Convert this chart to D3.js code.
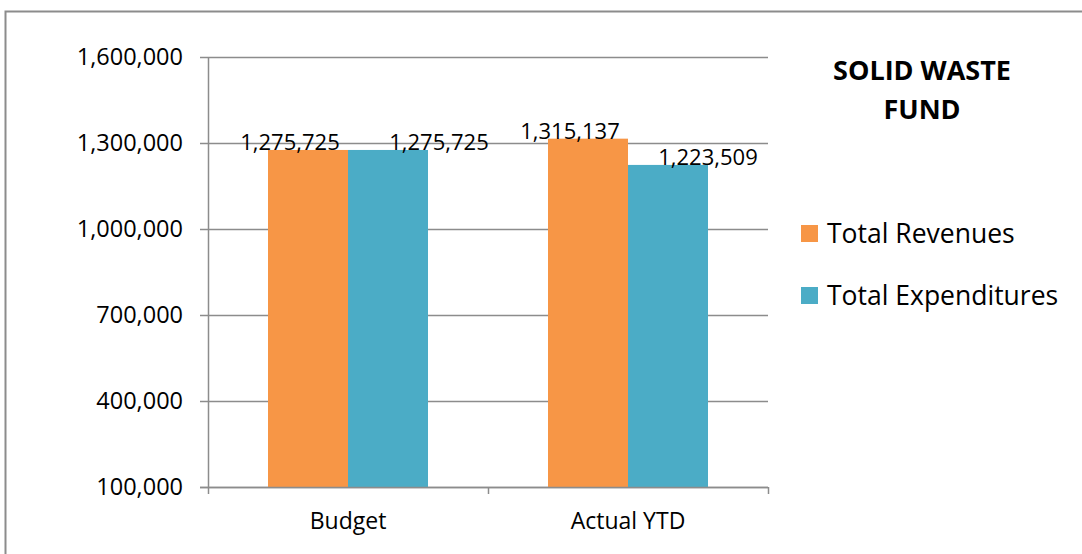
<!DOCTYPE html>
<html>
<head>
<meta charset="utf-8">
<script src="https://cdn.jsdelivr.net/npm/d3@7"></script>
<style>
  html, body { margin: 0; padding: 0; background: #fff; }
  svg { display: block; font-family: "Open Sans", "Liberation Sans", sans-serif; }
</style>
</head>
<body>
<svg id="chart" width="1082" height="554"></svg>
<script>
// ---- data ----
const categories = ["Budget", "Actual YTD"];
const seriesNames = ["Total Revenues", "Total Expenditures"];
const revenues = [1275725, 1315137];
const expenditures = [1275725, 1223509];
const yTicks = [100000, 400000, 700000, 1000000, 1300000, 1600000];
const titleLines = ["SOLID WASTE", "FUND"];

// ---- styling / layout ----
const colors = ["#F79646", "#4BACC6"];
const gridColor = "#8c8c8c";
const svg = d3.select("#chart");
const plot = { left: 208, right: 768, top: 57, bottom: 487 };

// outer border
svg.append("rect")
  .attr("x", 5.5).attr("y", 11.5)
  .attr("width", 1082).attr("height", 560)
  .attr("fill", "none").attr("stroke", "#8c8c8c").attr("stroke-width", 2);

const y = d3.scaleLinear().domain([100000, 1600000]).range([plot.bottom, plot.top]);
const x0 = d3.scaleBand().domain(categories).range([plot.left, plot.right]).paddingInner(0).paddingOuter(0);
const x1 = d3.scaleBand().domain(seriesNames).range([0, x0.bandwidth()]).paddingInner(0).paddingOuter(0.75);

// gridlines
svg.append("g").selectAll("line").data(yTicks).join("line")
  .attr("x1", plot.left - 8).attr("x2", plot.right)
  .attr("y1", d => Math.round(y(d)) + 0.5).attr("y2", d => Math.round(y(d)) + 0.5)
  .attr("stroke", gridColor).attr("stroke-width", 1.5);

// y axis
const yAxis = d3.axisLeft(y).tickValues(yTicks).tickSize(0).tickPadding(25)
  .tickFormat(d3.format(","));
const gy = svg.append("g").attr("transform", `translate(${plot.left},0)`).call(yAxis);
gy.select(".domain").remove();
gy.selectAll("text").attr("font-size", 23.5).attr("fill", "#000")
  .attr("font-family", "'Open Sans', sans-serif");
svg.append("line").attr("x1", plot.left + 0.5).attr("x2", plot.left + 0.5)
  .attr("y1", plot.top).attr("y2", plot.bottom)
  .attr("stroke", gridColor).attr("stroke-width", 1.5);

// bars
const groups = svg.append("g").selectAll("g").data(categories).join("g")
  .attr("transform", d => `translate(${x0(d)},0)`);
groups.selectAll("rect")
  .data((c, i) => [
    { s: seriesNames[0], v: revenues[i], k: 0 },
    { s: seriesNames[1], v: expenditures[i], k: 1 }
  ])
  .join("rect")
  .attr("x", d => x1(d.s))
  .attr("y", d => y(d.v))
  .attr("width", x1.bandwidth())
  .attr("height", d => y(100000) - y(d.v))
  .attr("fill", d => colors[d.k]);

// x axis
const xAxis = d3.axisBottom(x0).tickSize(0).tickPadding(26);
const gx = svg.append("g").attr("transform", `translate(0,${plot.bottom})`).call(xAxis);
gx.select(".domain").remove();
gx.selectAll("text").attr("font-size", 23).attr("fill", "#000")
  .attr("font-family", "'Open Sans', sans-serif");
svg.append("line").attr("x1", plot.left - 8).attr("x2", plot.right)
  .attr("y1", plot.bottom + 0.5).attr("y2", plot.bottom + 0.5)
  .attr("stroke", gridColor).attr("stroke-width", 1.5);
const bounds = [plot.left, ...categories.map(c => x0(c) + x0.bandwidth())];
svg.append("g").selectAll("line").data(bounds).join("line")
  .attr("x1", d => d + 0.5).attr("x2", d => d + 0.5)
  .attr("y1", plot.bottom).attr("y2", plot.bottom + 7)
  .attr("stroke", gridColor).attr("stroke-width", 1.5);

// data labels (Excel nudges the labels sideways to avoid overlap)
const labelShift = [[-18, 51], [-18, 40]];
const fmt = d3.format(",");
groups.selectAll("text.lbl")
  .data((c, i) => [
    { s: seriesNames[0], v: revenues[i], dx: labelShift[i][0] },
    { s: seriesNames[1], v: expenditures[i], dx: labelShift[i][1] }
  ])
  .join("text").attr("class", "lbl")
  .attr("x", d => x1(d.s) + x1.bandwidth() / 2 + d.dx)
  .attr("y", d => y(d.v))
  .attr("text-anchor", "middle")
  .attr("font-size", 22)
  .attr("fill", "#000")
  .text(d => fmt(d.v));

// title
svg.append("text").attr("x", 922).attr("y", 80).attr("text-anchor", "middle")
  .attr("font-size", 27).attr("font-weight", "bold")
  .selectAll("tspan").data(titleLines).join("tspan")
  .attr("x", 922).attr("dy", (d, i) => i === 0 ? 0 : 39)
  .text(d => d);

// legend
const legend = svg.append("g").selectAll("g").data(seriesNames).join("g")
  .attr("transform", (d, i) => `translate(801,${225 + i * 62})`);
legend.append("rect").attr("width", 17).attr("height", 17)
  .attr("fill", (d, i) => colors[i]);
legend.append("text").attr("x", 26).attr("y", 18)
  .attr("font-size", 26.5).attr("fill", "#000").text(d => d);
</script>
</body>
</html>
